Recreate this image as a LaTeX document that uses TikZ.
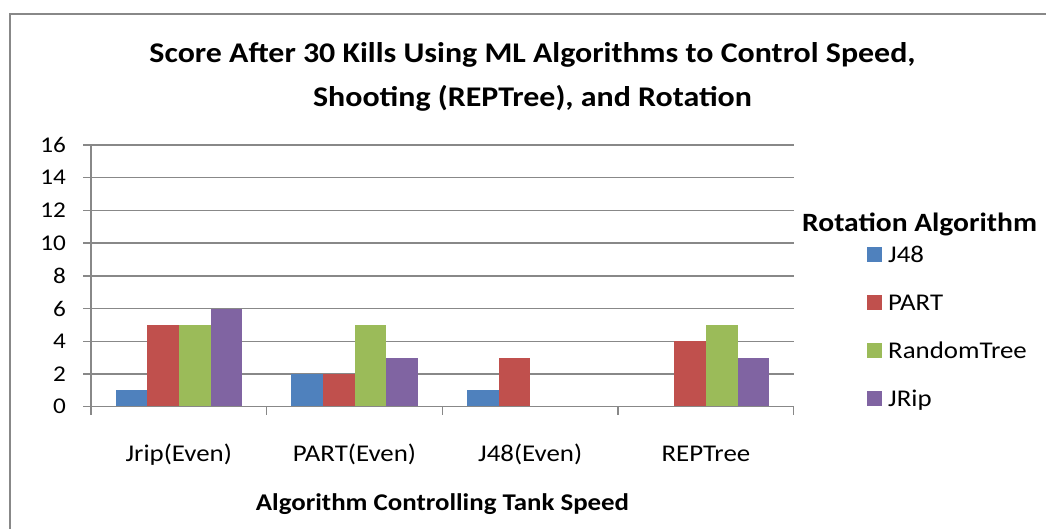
\documentclass[tikz,border=0pt]{standalone}
\usepackage{fontspec}
\setmainfont{Carlito}[FakeStretch=1.12]
\definecolor{sblue}{HTML}{4F81BD}
\definecolor{sred}{HTML}{C0504D}
\definecolor{sgreen}{HTML}{9BBB59}
\definecolor{spurple}{HTML}{8064A2}
\definecolor{gridgray}{HTML}{888888}
\begin{document}
\begin{tikzpicture}[x=1pt,y=-1pt,
  gridline/.style={draw=gridgray,line width=1.4pt},
  frame/.style={draw=gridgray,line width=2pt},
  ticklbl/.style={anchor=east,inner sep=0pt,font=\fontsize{22.5}{26}\selectfont},
  catlbl/.style={anchor=base,inner sep=0pt,font=\fontsize{24}{28}\selectfont},
  legtxt/.style={anchor=base west,inner sep=0pt,font=\fontsize{24}{28}\selectfont},
  axtitle/.style={anchor=base,inner sep=0pt,font=\bfseries\fontsize{24}{28}\selectfont},
  legtitle/.style={anchor=base west,inner sep=0pt,font=\bfseries\fontsize{26.4}{30}\selectfont},
  charttitle/.style={anchor=base,inner sep=0pt,font=\bfseries\fontsize{28.5}{34}\selectfont},
  legsq/.style={minimum size=14.5pt,inner sep=0pt}
]
\useasboundingbox (0,0) rectangle (1046,529);
% outer frame
\draw[frame] (10,529) -- (10,14) -- (1046,14);
% title
\node[charttitle] (title1) at (532.5,63) {Score After 30 Kills Using ML Algorithms to Control Speed,};
\node[charttitle] (title2) at (532.5,107) {Shooting (REPTree), and Rotation};
% gridlines and y ticks
\foreach \v in {0,2,...,16}{
  \pgfmathsetmacro{\yy}{406.7-\v*16.36}
  \draw[gridline] (83,\yy) -- (793.7,\yy);
  \node[ticklbl] (yt\v) at (66,\yy) {\v};
}
% y axis
\draw[gridline] (91,406.7) -- (91,144.9);
% category ticks
\foreach \i in {0,...,4}{
  \pgfmathsetmacro{\xx}{91+\i*175.675}
  \draw[gridline] (\xx,406.7) -- (\xx,415);
}
% bars
\foreach \vals [count=\i from 0] in {{1,5,5,6},{2,2,5,3},{1,3,0,0},{0,4,5,3}}{
  \foreach \v [count=\j from 0] in \vals {
    \pgfmathsetmacro{\xa}{91+\i*175.675+24.7+\j*31.6}
    \pgfmathsetmacro{\xb}{\xa+31.6}
    \pgfmathsetmacro{\yt}{406.7-\v*16.36}
    \ifnum\v>0
      \ifcase\j
        \fill[sblue] (\xa,406.7) rectangle (\xb,\yt);
      \or
        \fill[sred] (\xa,406.7) rectangle (\xb,\yt);
      \or
        \fill[sgreen] (\xa,406.7) rectangle (\xb,\yt);
      \or
        \fill[spurple] (\xa,406.7) rectangle (\xb,\yt);
      \fi
    \fi
  }
}
% redraw baseline over bars
\draw[gridline] (83,406.7) -- (793.7,406.7);
% category labels
\node[catlbl] (c1) at (178.8,461) {Jrip(Even)};
\node[catlbl] (c2) at (354.5,461) {PART(Even)};
\node[catlbl] (c3) at (530.2,461) {J48(Even)};
\node[catlbl] (c4) at (705.9,461) {REPTree};
% axis title
\node[axtitle] (xtitle) at (442.5,510) {Algorithm Controlling Tank Speed};
% legend
\node[legtitle] (legtitle) at (802,232) {Rotation Algorithm};
\node[legsq,fill=sblue] (sq1) at (874.5,254.7) {};
\node[legtxt] (l1) at (888,262.7) {J48};
\node[legsq,fill=sred] (sq2) at (874.5,302.7) {};
\node[legtxt] (l2) at (888,310.7) {PART};
\node[legsq,fill=sgreen] (sq3) at (874.5,350.7) {};
\node[legtxt] (l3) at (888,358.7) {RandomTree};
\node[legsq,fill=spurple] (sq4) at (874.5,398.7) {};
\node[legtxt] (l4) at (888,406.7) {JRip};
\end{tikzpicture}
\end{document}
